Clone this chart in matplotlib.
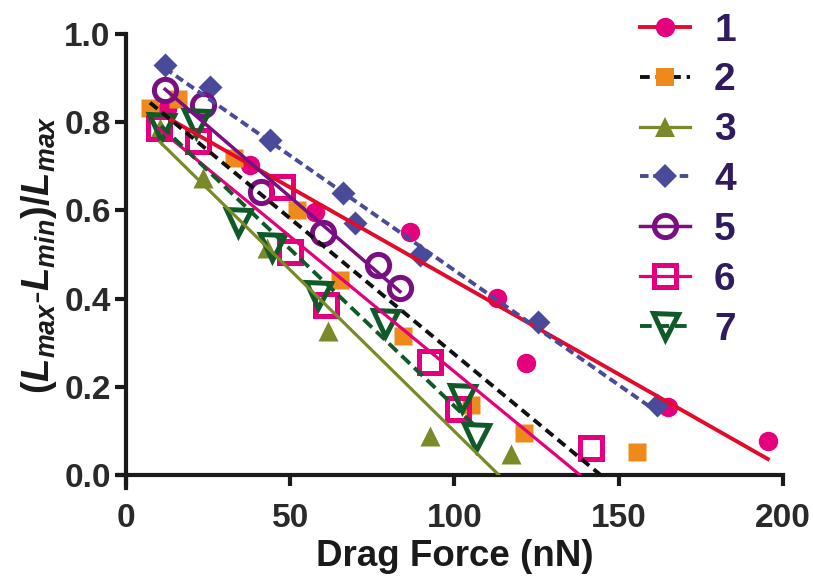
import matplotlib
matplotlib.use("Agg")
import matplotlib.pyplot as plt
import numpy as np

plt.rcParams["font.family"] = "Liberation Sans"
plt.rcParams["font.weight"] = "bold"
plt.rcParams["mathtext.fontset"] = "custom"
plt.rcParams["mathtext.it"] = "Liberation Sans:italic:bold"
plt.rcParams["mathtext.rm"] = "Liberation Sans:bold"
plt.rcParams["mathtext.bf"] = "Liberation Sans:bold"

# data: drag force (nN) vs relative length change
x1 = [12.5, 37.7, 57.5, 86.5, 113.0, 121.8, 165.0, 195.4]
y1 = [0.83, 0.703, 0.596, 0.551, 0.401, 0.254, 0.154, 0.077]

x2 = [7.3, 15.8, 32.9, 52.1, 65.1, 84.3, 105.0, 121.2, 155.6]
y2 = [0.832, 0.853, 0.719, 0.601, 0.442, 0.315, 0.159, 0.095, 0.052]

x3 = [10.4, 23.4, 42.9, 61.5, 92.5, 117.2]
y3 = [0.787, 0.673, 0.515, 0.327, 0.088, 0.048]

x4 = [11.9, 25.6, 43.8, 66.1, 69.7, 89.5, 125.4, 161.6]
y4 = [0.930, 0.880, 0.760, 0.639, 0.571, 0.499, 0.347, 0.159]

x5 = [11.9, 23.4, 41.1, 60.0, 76.7, 83.4]
y5 = [0.873, 0.839, 0.642, 0.549, 0.476, 0.424]

x6 = [10.0, 21.9, 47.5, 49.9, 60.9, 92.5, 101.1, 141.6]
y6 = [0.787, 0.757, 0.653, 0.506, 0.385, 0.256, 0.150, 0.061]

x7 = [10.7, 21.3, 34.1, 44.4, 58.4, 78.8, 102.3, 106.5]
y7 = [0.789, 0.798, 0.574, 0.517, 0.408, 0.345, 0.175, 0.086]

labels = ["1", "2", "3", "4", "5", "6", "7"]

# (marker, marker colour, line colour, linestyle, line width, filled, marker size)
styles = [
    ("o", "#E5007D", "#E30B2C", "-", 2.8, True, 14),
    ("s", "#EE8A1B", "#111111", (0, (2.5, 1.5)), 2.8, True, 13),
    ("^", "#7A8A29", "#7A8A29", "-", 2.3, True, 14),
    ("D", "#4A4A9A", "#4A4A9A", (0, (2.2, 1.2)), 2.8, True, 12),
    ("o", "#7A0F82", "#7A0F82", "-", 2.5, False, 16),
    ("s", "#E4007C", "#E4007C", "-", 2.3, False, 16),
    ("v", "#105A2A", "#105A2A", (0, (3, 1.5)), 2.8, False, 18),
]

series = [(x1, y1), (x2, y2), (x3, y3), (x4, y4), (x5, y5), (x6, y6), (x7, y7)]

fig = plt.figure(figsize=(8.13, 5.77), dpi=100)
ax = fig.add_axes([0.155, 0.1768, 0.808, 0.7644])

handles = []
for (xs, ys), (mk, mc, lc, ls, lw, filled, ms) in zip(series, styles):
    xs = np.array(xs)
    ys = np.array(ys)
    if filled:
        ax.plot(xs, ys, ls="none", marker=mk, ms=ms, mfc=mc, mec="none", zorder=2)
    else:
        ax.plot(xs, ys, ls="none", marker=mk, ms=ms, mfc="none", mec=mc, mew=3.6, zorder=2)
    # linear fit through each series
    k, b = np.polyfit(xs, ys, 1)
    xf = np.array([xs.min(), xs.max()])
    ax.plot(xf, k * xf + b, color=lc, ls=ls, lw=lw, zorder=3)

    h = plt.Line2D([], [], color=lc, ls=ls, lw=lw, marker=mk, ms=ms,
                   mfc=mc if filled else "none", mec=mc if not filled else "none",
                   mew=3.6 if not filled else 0)
    handles.append(h)

ax.set_xlim(0, 200)
ax.set_ylim(0, 1.0)
ax.set_xticks([0, 50, 100, 150, 200])
ax.set_yticks([0.0, 0.2, 0.4, 0.6, 0.8, 1.0])
ax.set_yticklabels(["0.0", "0.2", "0.4", "0.6", "0.8", "1.0"])

for s in ["top", "right"]:
    ax.spines[s].set_visible(False)
for s in ["left", "bottom"]:
    ax.spines[s].set_linewidth(3)
    ax.spines[s].set_color("#1a1a1a")
ax.spines["left"].set_bounds(-0.03, 1.0)
ax.spines["bottom"].set_bounds(-2.5, 200)

ax.tick_params(direction="out", length=8, width=3, colors="#1a1a1a",
               labelsize=24, pad=3)
ax.tick_params(axis="x", pad=12)
for t in ax.get_xticklabels() + ax.get_yticklabels():
    t.set_fontweight("bold")
    t.set_color("#2a2a2a")

ax.set_xlabel("Drag Force (nN)", fontsize=26.5, fontweight="bold", color="#1a1a1a", labelpad=4)
ax.set_ylabel(r"$(L_{max}$-$L_{min})/L_{max}$", fontsize=27.5, color="#1a1a1a", labelpad=4)

leg = fig.legend(handles, labels, loc="upper left", bbox_to_anchor=(0.787, 0.978),
                 frameon=False, fontsize=28, handlelength=1.29, handletextpad=0.62,
                 labelspacing=0.355, borderaxespad=0, borderpad=0)
for t in leg.get_texts():
    t.set_color("#2F1B5E")
    t.set_fontweight("bold")

fig.savefig("out.png", dpi=100)
